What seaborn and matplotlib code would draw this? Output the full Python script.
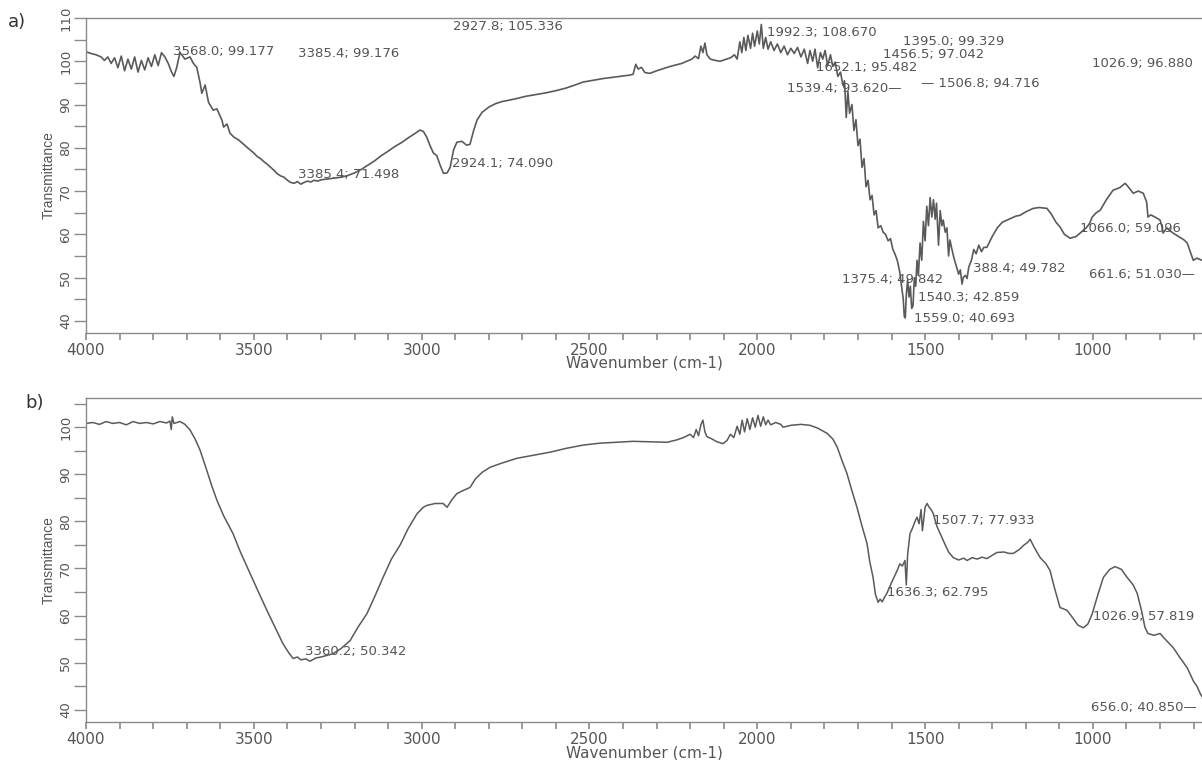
import matplotlib
matplotlib.use("Agg")
import matplotlib.pyplot as plt
from matplotlib.ticker import MultipleLocator
import seaborn as sns
import pandas as pd

# ---------------- data: panel a ----------------
wn_a = [4000, 3985, 3970, 3955, 3945, 3935, 3925, 3915, 3905, 3895, 3885, 3875, 3865, 3855,
        3845, 3835, 3825, 3815, 3805, 3795, 3785, 3775, 3765, 3755, 3745, 3738, 3730, 3720,
        3705, 3690, 3680, 3670, 3660, 3655, 3645, 3635, 3621, 3610, 3595, 3590, 3580, 3571,
        3560, 3545, 3520, 3500, 3490, 3480, 3470, 3460, 3450, 3440, 3430, 3420, 3410, 3400,
        3390, 3380, 3370, 3360, 3350, 3340, 3330, 3320, 3310, 3300, 3280, 3260, 3240, 3220,
        3200, 3180, 3160, 3140, 3120, 3100, 3080, 3060, 3040, 3020, 3005, 2995, 2985, 2975,
        2965, 2955, 2945, 2935, 2924, 2915, 2905, 2895, 2880, 2866, 2856, 2845, 2835, 2820,
        2800, 2780, 2760, 2740, 2716, 2690, 2660, 2630, 2600, 2570, 2540, 2519, 2490, 2460,
        2430, 2400, 2380, 2370, 2362, 2355, 2345, 2335, 2320, 2300, 2280, 2260, 2240, 2225,
        2210, 2195, 2185, 2175, 2168, 2162, 2156, 2150, 2140, 2125, 2111, 2095, 2080, 2068,
        2060, 2052, 2046, 2040, 2034, 2028, 2020, 2014, 2008, 2000, 1994, 1988, 1982, 1975,
        1968, 1960, 1950, 1940, 1930, 1920, 1910, 1900, 1890, 1880, 1870, 1860, 1850, 1843,
        1835, 1828, 1820, 1812, 1805, 1798, 1790, 1782, 1775, 1768, 1760, 1752, 1745, 1740,
        1735, 1730, 1725, 1718, 1712, 1706, 1700, 1694, 1688, 1682, 1676, 1670, 1664, 1658,
        1652, 1646, 1640, 1632, 1625, 1618, 1610, 1603, 1596, 1590, 1583, 1576, 1570, 1565,
        1562, 1559, 1556, 1552, 1548, 1544, 1540, 1536, 1532, 1528, 1524, 1520, 1515, 1510,
        1505, 1500, 1495, 1490, 1485, 1480, 1475, 1470, 1466, 1460, 1455, 1450, 1446, 1440,
        1435, 1430, 1426, 1420, 1414, 1406, 1400, 1395, 1390, 1386, 1380, 1375, 1370, 1362,
        1355, 1348, 1340, 1332, 1325, 1316, 1300, 1285, 1270, 1250, 1230, 1217, 1200, 1178,
        1160, 1137, 1125, 1110, 1098, 1085, 1068, 1050, 1038, 1020, 1010, 1002, 990, 978,
        960, 940, 920, 904, 895, 880, 865, 850, 840, 836, 828, 815, 800, 795, 791, 780,
        770, 761, 745, 730, 719, 710, 701, 690, 675]
tr_a = [102.2, 101.8, 101.5, 101.0, 100.2, 101.0, 99.5, 100.8, 98.5, 101.2, 97.8, 100.5, 98.2, 101.0,
        97.5, 100.2, 98.0, 100.8, 98.8, 101.5, 99.0, 102.0, 101.0, 99.5, 97.5, 96.5, 98.5, 102.0,
        100.5, 101.0, 99.5, 98.6, 95.0, 92.6, 94.5, 90.5, 88.7, 89.0, 86.4, 84.8, 85.5, 83.4,
        82.5, 81.8, 80.1, 78.8, 78.0, 77.5, 76.8, 76.2, 75.5, 74.8, 74.0, 73.5, 73.2, 72.5,
        72.0, 71.8, 72.2, 71.6, 72.0, 72.3, 72.1, 72.5, 72.3, 72.6, 72.8, 73.0, 73.2, 73.6,
        74.2, 75.0, 76.0, 77.0, 78.2, 79.2, 80.3, 81.2, 82.3, 83.3, 84.1, 83.8, 82.5, 80.5,
        78.8, 78.2, 76.0, 74.1, 74.2, 75.5, 79.5, 81.3, 81.5, 80.6, 80.8, 84.0, 86.4, 88.2,
        89.4, 90.2, 90.7, 91.0, 91.4, 91.9, 92.3, 92.7, 93.2, 93.8, 94.6, 95.2, 95.6, 96.0,
        96.3, 96.6, 96.8, 97.0, 99.3, 98.2, 98.6, 97.4, 97.2, 97.8, 98.3, 98.8, 99.2, 99.5,
        100.0, 100.5, 101.2, 100.6, 103.5, 102.0, 104.2, 101.5, 100.5, 100.2, 100.0, 100.4, 100.8, 101.5,
        100.5, 104.5, 102.0, 105.5, 102.5, 106.0, 103.0, 106.5, 103.5, 107.0, 104.0, 108.5, 103.0, 105.5,
        102.8, 104.5, 102.5, 104.0, 102.0, 103.5, 101.5, 103.0, 101.8, 103.2, 101.0, 102.8, 99.5, 102.5,
        100.0, 102.8, 98.5, 102.0, 100.5, 102.5, 99.0, 101.5, 98.8, 99.8, 96.5, 97.5, 94.5, 95.5,
        87.0, 93.0, 88.0, 90.0, 84.0, 86.5, 80.5, 82.0, 75.5, 77.5, 71.0, 72.5, 68.0, 69.0,
        64.5, 65.5, 61.5, 62.0, 60.5, 60.0, 58.5, 59.0, 56.5, 55.5, 54.0, 51.5, 48.0, 45.0,
        41.0, 40.7, 46.0, 49.5, 45.5, 48.0, 42.9, 43.5, 50.0, 48.0, 54.0, 50.5, 58.0, 54.0,
        63.0, 58.5, 66.5, 62.0, 68.5, 64.0, 68.0, 63.5, 67.2, 57.5, 65.5, 62.0, 63.3, 60.5,
        61.5, 55.0, 58.7, 56.5, 54.5, 52.4, 50.8, 51.8, 48.5, 50.1, 50.5, 49.8, 52.4, 54.0,
        56.5, 55.5, 57.5, 56.0, 57.0, 57.0, 59.5, 61.5, 62.8, 63.5, 64.2, 64.4, 65.2, 66.0,
        66.2, 66.0, 64.8, 62.8, 61.7, 60.0, 59.1, 59.5, 60.3, 61.5, 62.5, 64.0, 65.0, 65.6,
        68.0, 70.2, 70.8, 71.8, 71.0, 69.5, 70.0, 69.5, 67.5, 64.0, 64.5, 64.0, 63.3, 62.0, 60.3, 61.5,
        60.8, 60.3, 59.5, 58.8, 58.0, 56.0, 54.0, 54.5, 54.0]

# ---------------- data: panel b ----------------
wn_b = [4000, 3980, 3960, 3940, 3920, 3900, 3880, 3860, 3840, 3820, 3800, 3780, 3760, 3750,
        3746, 3743, 3738, 3720, 3705, 3690, 3675, 3660, 3640, 3625, 3610, 3590, 3562, 3540,
        3511, 3490, 3461, 3440, 3413, 3395, 3383, 3370, 3360, 3345, 3333, 3315, 3300, 3285,
        3264, 3240, 3213, 3190, 3163, 3140, 3115, 3090, 3064, 3040, 3014, 2995, 2984, 2960,
        2936, 2924, 2910, 2895, 2875, 2856, 2840, 2820, 2796, 2760, 2716, 2670, 2617, 2570,
        2519, 2470, 2420, 2370, 2320, 2269, 2240, 2220, 2200, 2190, 2182, 2175, 2168, 2162,
        2156, 2150, 2135, 2120, 2102, 2090, 2080, 2070, 2060, 2052, 2045, 2038, 2030, 2022,
        2014, 2006, 1998, 1990, 1982, 1975, 1968, 1960, 1945, 1930, 1923, 1900, 1870, 1843,
        1820, 1792, 1775, 1762, 1748, 1733, 1718, 1703, 1688, 1673, 1665, 1655, 1648, 1640,
        1634, 1628, 1620, 1614, 1600, 1583, 1575, 1568, 1560, 1556, 1552, 1545, 1538, 1530,
        1524, 1518, 1512, 1508, 1500, 1494, 1488, 1482, 1476, 1465, 1455, 1440, 1430, 1416,
        1400, 1385, 1375, 1360, 1345, 1330, 1316, 1300, 1286, 1265, 1250, 1237, 1220, 1205,
        1195, 1187, 1175, 1157, 1140, 1128, 1115, 1098, 1090, 1077, 1060, 1045, 1029, 1015,
        1002, 985, 969, 950, 934, 915, 898, 880, 868, 855, 845, 836, 818, 800, 785, 761,
        740, 719, 700, 690, 680, 675]
tr_b = [100.8, 101.0, 100.6, 101.2, 100.8, 101.0, 100.5, 101.2, 100.8, 101.0, 100.7, 101.2, 100.9, 101.3,
        99.5, 102.2, 100.8, 101.2, 100.6, 99.4, 97.5, 95.1, 90.8, 87.5, 84.5, 81.2, 77.4, 73.5,
        68.9, 65.6, 61.1, 58.0, 54.0, 52.0, 50.9, 51.2, 50.6, 50.8, 50.3, 51.0, 51.2, 51.5,
        51.9, 53.0, 54.7, 57.5, 60.4, 64.0, 68.1, 72.0, 75.0, 78.5, 81.6, 83.0, 83.4, 83.8,
        83.8, 83.0, 84.6, 85.9, 86.6, 87.2, 89.0, 90.4, 91.5, 92.4, 93.4, 94.0, 94.7, 95.5,
        96.2, 96.6, 96.8, 97.0, 96.9, 96.8, 97.3, 97.8, 98.5, 97.8, 99.5, 98.2, 100.5, 101.5,
        99.0, 98.0, 97.5, 96.9, 96.5, 97.2, 98.5, 97.8, 100.2, 98.5, 101.5, 99.0, 101.8, 99.5,
        102.0, 100.0, 102.5, 100.2, 102.2, 100.5, 101.5, 100.5, 101.0, 100.6, 100.0, 100.4, 100.6, 100.4,
        99.8, 98.7, 97.5, 95.8, 93.0, 90.2, 86.5, 83.0, 79.0, 75.3, 71.5, 68.1, 64.5, 62.8,
        63.5, 62.9, 64.0, 64.7, 67.0, 69.6, 71.0, 70.5, 71.7, 66.5, 73.0, 77.4, 78.5, 80.0,
        80.9, 79.5, 82.5, 78.0, 83.0, 83.8, 83.0, 82.5, 81.7, 79.0, 77.4, 75.0, 73.5, 72.3,
        71.8, 72.2, 71.7, 72.3, 72.0, 72.4, 72.1, 72.8, 73.4, 73.5, 73.2, 73.2, 74.0, 75.0,
        75.5, 76.2, 74.5, 72.3, 71.0, 69.6, 66.0, 61.7, 61.5, 61.1, 59.5, 58.0, 57.4, 58.2,
        60.4, 64.5, 68.1, 69.8, 70.4, 69.8, 68.1, 66.5, 64.7, 61.0, 57.5, 56.2, 55.8, 56.2, 55.0, 53.2,
        51.0, 48.9, 46.0, 45.0, 43.4, 42.8]

# ---------------- peak labels ----------------
labels_a = ["3568.0; 99.177", "3385.4; 99.176", "2927.8; 105.336", "1992.3; 108.670",
            "1395.0; 99.329", "1456.5; 97.042", "1652.1; 95.482", "1539.4; 93.620\u2014",
            "\u2014 1506.8; 94.716", "1026.9; 96.880", "3385.4; 71.498", "2924.1; 74.090",
            "1066.0; 59.096", "1375.4; 49.842", "388.4; 49.782", "661.6; 51.030\u2014",
            "1540.3; 42.859", "1559.0; 40.693"]
label_x_a = [3741, 3368, 2906, 1971, 1566, 1625, 1825, 1911, 1512, 1002, 3368, 2909,
             1038, 1747, 1357, 1011, 1521, 1534]
label_y_a = [102.3, 101.8, 108.1, 106.7, 104.6, 101.6, 98.6, 93.8, 94.9, 99.5, 73.9, 76.4,
             61.4, 49.6, 52.2, 50.8, 45.3, 40.6]

labels_b = ["3360.2; 50.342", "1507.7; 77.933", "1636.3; 62.795", "1026.9; 57.819",
            "656.0; 40.850\u2014"]
label_x_b = [3347, 1476, 1613, 999, 1005]
label_y_b = [52.3, 80.2, 64.9, 59.8, 40.4]

panel_tags = ["a)", "b)"]

# ---------------- styling ----------------
sns.set_style("white")
plt.rcParams["font.family"] = ["DejaVu Sans"]

line_col = "#5a5a5a"
spine_col = "#8a8a8a"
text_col = "#555555"

fig = plt.figure(figsize=(12.02, 7.6), dpi=100)
ax_a = fig.add_axes([86 / 1202, 1 - 333 / 760, 1 - 86 / 1202, 315 / 760])
ax_b = fig.add_axes([86 / 1202, 1 - 722 / 760, 1 - 86 / 1202, 324 / 760])

df_a = pd.DataFrame({"wn": wn_a, "T": tr_a})
df_b = pd.DataFrame({"wn": wn_b, "T": tr_b})
sns.lineplot(data=df_a, x="wn", y="T", ax=ax_a, color=line_col, lw=1.2, sort=False, estimator=None)
sns.lineplot(data=df_b, x="wn", y="T", ax=ax_b, color=line_col, lw=1.1, sort=False, estimator=None)

ylims = [(37.2, 110.0), (37.4, 106.2)]
for ax, yl in zip([ax_a, ax_b], ylims):
    ax.set_xlim(4000, 675)
    ax.set_ylim(*yl)
    ax.xaxis.set_major_locator(MultipleLocator(500))
    ax.xaxis.set_minor_locator(MultipleLocator(100))
    ax.yaxis.set_major_locator(MultipleLocator(10))
    ax.yaxis.set_minor_locator(MultipleLocator(5))
    ax.tick_params(axis="x", which="both", direction="out", length=5, width=1.2,
                   color=spine_col, labelsize=11, labelcolor=text_col, pad=2, bottom=True)
    ax.tick_params(axis="y", which="both", direction="out", length=9, width=1.0,
                   color=spine_col, labelsize=9.5, labelcolor=text_col, pad=1, left=True)
    for lbl in ax.get_yticklabels():
        lbl.set_rotation(90)
        lbl.set_va("center")
    ax.spines["right"].set_visible(False)
    for s in ["left", "bottom", "top"]:
        ax.spines[s].set_color(spine_col)
        ax.spines[s].set_linewidth(1.0)
    ax.set_xlabel("Wavenumber (cm-1)", fontsize=11, color=text_col)
    ax.set_ylabel("Transmittance", fontsize=10, color=text_col, family="Liberation Sans")
    ax.yaxis.set_label_coords(-0.027, 0.5)
    ax.grid(False)

ax_a.xaxis.set_label_coords(0.5, -0.073)
ax_b.xaxis.set_label_coords(0.5, -0.074)

for t, x, y in zip(labels_a, label_x_a, label_y_a):
    ax_a.text(x, y, t, fontsize=9.5, color=text_col, ha="left", va="center")
for t, x, y in zip(labels_b, label_x_b, label_y_b):
    ax_b.text(x, y, t, fontsize=9.5, color=text_col, ha="left", va="center")

fig.text(8 / 1202, 1 - 22 / 760, panel_tags[0], fontsize=13, color="#333333", va="center")
fig.text(25 / 1202, 1 - 403 / 760, panel_tags[1], fontsize=13, color="#333333", va="center")

fig.savefig("out.png", dpi=100, facecolor="white")
